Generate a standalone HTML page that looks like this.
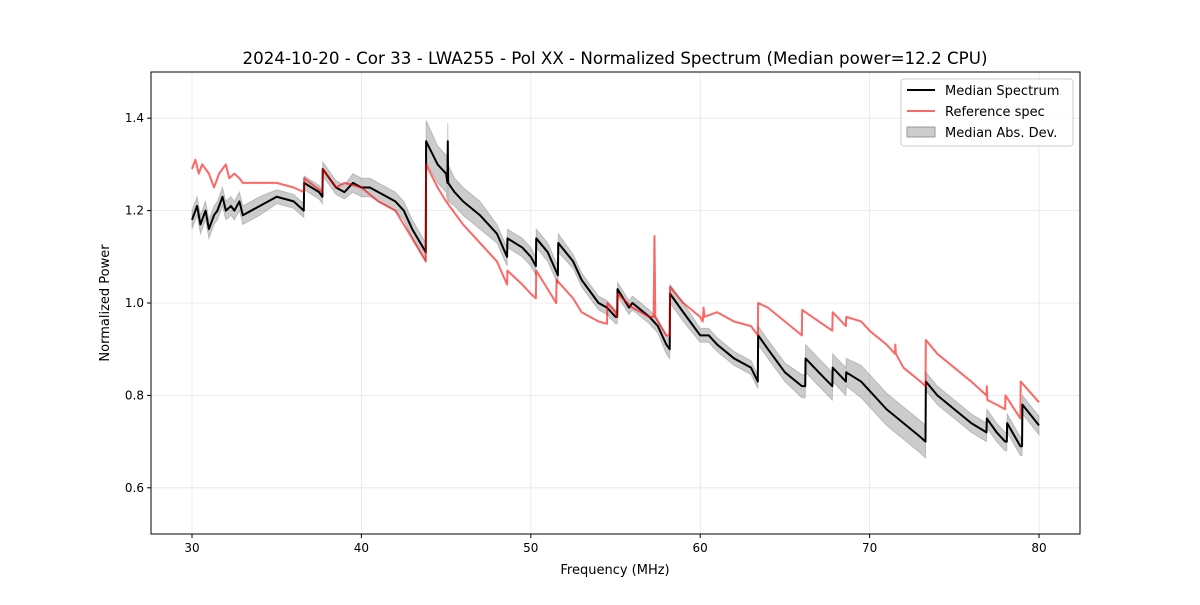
<!DOCTYPE html>
<html><head><meta charset="utf-8"><style>
body{margin:0;background:#fff;font-family:"Liberation Sans","DejaVu Sans",sans-serif;}
svg text{font-family:"DejaVu Sans","Liberation Sans",sans-serif;}
</style></head><body>
<svg id="chart" width="1200" height="600" viewBox="0 0 1200 600" xmlns="http://www.w3.org/2000/svg">
<rect width="1200" height="600" fill="#fff"/>
<text x="615" y="64" font-size="16.7" text-anchor="middle">2024-10-20 - Cor 33 - LWA255 - Pol XX - Normalized Spectrum (Median power=12.2 CPU)</text>
<g id="grid"></g><g id="band"></g><g id="lines"></g><g id="axes"></g>
<text x="615" y="574" font-size="13" text-anchor="middle">Frequency (MHz)</text>
<text transform="translate(109,303) rotate(-90)" font-size="13" text-anchor="middle">Normalized Power</text>
<g>
<rect x="901" y="79" width="172" height="67" rx="3" fill="#fff" fill-opacity="0.8" stroke="#ccc"/>
<line x1="907" y1="90" x2="935" y2="90" stroke="#000" stroke-width="2"/>
<text x="945" y="95" font-size="13">Median Spectrum</text>
<line x1="907" y1="111" x2="935" y2="111" stroke="#ff6666" stroke-width="2"/>
<text x="945" y="116" font-size="13">Reference spec</text>
<rect x="907" y="127" width="28" height="10" fill="#ccc" stroke="#999"/>
<text x="945" y="137" font-size="13">Median Abs. Dev.</text>
</g>
</svg>
<script>
const medFreq=[30,30.3,30.5,30.8,31,31.3,31.5,31.8,32,32.3,32.5,32.8,33,34,35,36,36.6,36.62,37.5,37.7,37.72,38.5,39,39.5,40,40.5,41,41.5,42,42.5,43,43.8,43.82,44.5,45,45.08,45.1,45.12,45.5,46,47,48,48.6,48.62,49.5,50,50.3,50.32,51,51.6,51.62,52.5,53,54,54.5,55,55.1,55.12,55.8,56,57,57.5,58,58.2,58.22,59,60,60.5,61,62,63,63.4,63.42,64,65,66,66.2,66.22,67,67.8,67.82,68.6,68.62,69.5,70,71,72,73,73.3,73.32,74,75,76,76.9,76.92,77.5,78,78.1,78.12,78.9,79,79.02,80];
const medVal=[1.18,1.21,1.17,1.20,1.16,1.19,1.20,1.23,1.20,1.21,1.20,1.22,1.19,1.21,1.23,1.22,1.20,1.26,1.24,1.23,1.29,1.25,1.24,1.26,1.25,1.25,1.24,1.23,1.22,1.20,1.16,1.11,1.35,1.30,1.28,1.26,1.35,1.26,1.24,1.22,1.19,1.15,1.10,1.14,1.12,1.10,1.08,1.14,1.11,1.06,1.13,1.09,1.05,1.00,0.99,0.97,0.97,1.03,0.99,1.00,0.97,0.95,0.91,0.90,1.02,0.98,0.93,0.93,0.91,0.88,0.86,0.83,0.93,0.90,0.85,0.82,0.82,0.88,0.85,0.82,0.86,0.83,0.85,0.83,0.81,0.77,0.74,0.71,0.70,0.83,0.80,0.77,0.74,0.72,0.75,0.72,0.70,0.70,0.74,0.69,0.69,0.78,0.735];
const madVal=[0.02,0.02,0.02,0.02,0.02,0.02,0.02,0.02,0.02,0.02,0.02,0.02,0.02,0.02,0.015,0.015,0.015,0.015,0.015,0.015,0.015,0.015,0.015,0.02,0.02,0.02,0.02,0.02,0.02,0.02,0.02,0.02,0.045,0.04,0.04,0.04,0.04,0.04,0.03,0.03,0.03,0.02,0.02,0.02,0.02,0.02,0.02,0.02,0.02,0.02,0.02,0.015,0.015,0.015,0.015,0.015,0.015,0.015,0.015,0.015,0.015,0.015,0.02,0.02,0.02,0.02,0.015,0.015,0.015,0.015,0.015,0.015,0.02,0.02,0.02,0.025,0.025,0.03,0.03,0.03,0.03,0.03,0.03,0.035,0.035,0.035,0.035,0.035,0.035,0.02,0.02,0.02,0.02,0.02,0.02,0.02,0.02,0.02,0.02,0.02,0.02,0.02,0.02];
const refFreq=[30,30.2,30.4,30.6,31,31.3,31.6,32,32.2,32.5,32.8,33,34,35,36,36.6,36.62,37.7,37.72,38.5,39,40,41,42,43,43.8,43.82,44.5,45,46,47,48,48.6,48.62,49.5,50,50.3,50.32,51,51.5,51.52,52.5,53,54,54.5,54.52,55,55.1,55.12,56,57,57.25,57.3,57.35,57.5,58,58.2,58.22,59,60,60.15,60.2,60.25,61,62,63,63.4,63.42,64,65,66,66.02,67,67.8,67.82,68.6,68.62,69.5,70,71,71.5,71.52,71.55,72,73,73.3,73.32,74,75,76,76.9,76.92,76.95,77.5,78,78.02,78.9,78.92,80];
const refVal=[1.29,1.31,1.28,1.30,1.28,1.25,1.28,1.30,1.27,1.28,1.27,1.26,1.26,1.26,1.25,1.24,1.27,1.24,1.29,1.25,1.26,1.25,1.22,1.20,1.14,1.09,1.30,1.25,1.22,1.17,1.13,1.09,1.04,1.07,1.04,1.02,1.01,1.07,1.03,1.00,1.05,1.01,0.98,0.96,0.955,1.00,0.98,0.97,1.02,0.99,0.97,0.97,1.145,0.97,0.96,0.93,0.93,1.035,1.00,0.97,0.96,0.99,0.97,0.98,0.96,0.95,0.93,1.00,0.99,0.96,0.93,0.985,0.96,0.94,0.98,0.95,0.97,0.96,0.94,0.91,0.89,0.91,0.89,0.86,0.83,0.82,0.92,0.89,0.86,0.83,0.80,0.82,0.79,0.78,0.77,0.80,0.75,0.83,0.785];
const xTicks=[30,40,50,60,70,80];
const yTicks=[0.6,0.8,1.0,1.2,1.4];
const L=151,R=1080,T=72,B=534,X0=27.58,X1=82.42,Y0=0.5,Y1=1.5;
const NS='http://www.w3.org/2000/svg';
function sx(v){return L+(v-X0)/(X1-X0)*(R-L);}
function sy(v){return B-(v-Y0)/(Y1-Y0)*(B-T);}
function mk(tag,attrs,parent){const e=document.createElementNS(NS,tag);for(const k in attrs)e.setAttribute(k,attrs[k]);document.getElementById(parent).appendChild(e);return e;}
xTicks.forEach(t=>{
 const g=mk('line',{x1:sx(t),x2:sx(t),y1:T,y2:B,stroke:'#b0b0b0','stroke-opacity':0.3,'stroke-width':0.8},'grid');
 
 
 mk('line',{x1:sx(t),x2:sx(t),y1:B,y2:B+4,stroke:'#000'},'axes');
 const tx=mk('text',{x:sx(t),y:B+18,'font-size':12,'text-anchor':'middle'},'axes');tx.textContent=t;
 
 
});
yTicks.forEach(t=>{
 const g=mk('line',{x1:L,x2:R,y1:sy(t),y2:sy(t),stroke:'#b0b0b0','stroke-opacity':0.3,'stroke-width':0.8},'grid');
 
 
 mk('line',{x1:L-4,x2:L,y1:sy(t),y2:sy(t),stroke:'#000'},'axes');
 const tx=mk('text',{x:L-7,y:sy(t)+4,'font-size':12,'text-anchor':'end'},'axes');tx.textContent=t.toFixed(1);
 
 
});
const fr=mk('rect',{x:L,y:T,width:R-L,height:B-T,fill:'none',stroke:'#000','stroke-width':1},'axes');


let up=medFreq.map((f,i)=>sx(f)+','+sy(medVal[i]+madVal[i]));
let dn=medFreq.map((f,i)=>sx(f)+','+sy(medVal[i]-madVal[i])).reverse();
const band=mk('polygon',{points:up.concat(dn).join(' '),fill:'#808080','fill-opacity':0.4,stroke:'#808080','stroke-opacity':0.4},'band');


const med=mk('polyline',{points:medFreq.map((f,i)=>sx(f)+','+sy(medVal[i])).join(' '),fill:'none',stroke:'#000','stroke-width':2,'stroke-linejoin':'round'},'lines');


const ref=mk('polyline',{points:refFreq.map((f,i)=>sx(f)+','+sy(refVal[i])).join(' '),fill:'none',stroke:'#ff0000','stroke-opacity':0.6,'stroke-width':2,'stroke-linejoin':'round'},'lines');


</script>
</body></html>
